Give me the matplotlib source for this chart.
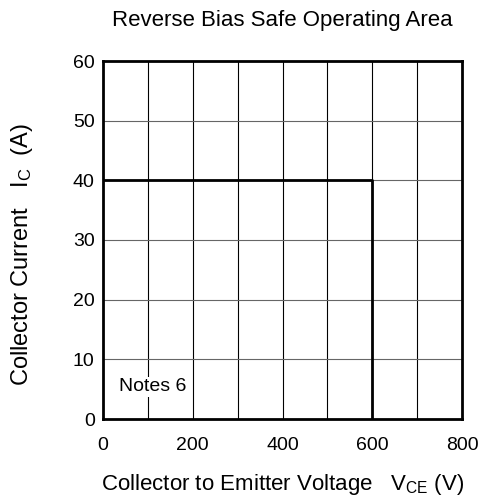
import matplotlib
matplotlib.use('Agg')
import matplotlib.pyplot as plt

plt.rcParams['font.family'] = ['Liberation Sans', 'DejaVu Sans']
plt.rcParams['mathtext.fontset'] = 'custom'
plt.rcParams['mathtext.rm'] = 'Liberation Sans'
plt.rcParams['mathtext.it'] = 'Liberation Sans'

# RBSOA boundary
vce = [0, 600, 600]
ic = [40, 40, 0]

xticks = [0, 200, 400, 600, 800]
yticks = [0, 10, 20, 30, 40, 50, 60]
xgrid = [100, 200, 300, 400, 500, 600, 700]
ygrid = [10, 20, 30, 40, 50]

fig = plt.figure(figsize=(4.86, 5.01), dpi=100)
ax = fig.add_axes([103 / 486, 1 - 419 / 501, 359 / 486, 358 / 501])

for x in xgrid:
    ax.axvline(x, color='black', lw=0.8, zorder=1)
for y in ygrid:
    ax.axhline(y, color='#666666', lw=0.8, zorder=1)

ax.plot(vce, ic, color='black', lw=2, zorder=3)

ax.set_xlim(0, 800)
ax.set_ylim(0, 60)
ax.set_xticks(xticks)
ax.set_yticks(yticks)
ax.tick_params(length=0, labelsize=14)
ax.tick_params(axis='x', pad=13)
ax.tick_params(axis='y', pad=6)
for s in ax.spines.values():
    s.set_linewidth(2)

ax.text(110, 5.4, 'Notes 6', fontsize=14, ha='center', va='center', zorder=2,
        bbox=dict(facecolor='white', edgecolor='none', pad=1))

fig.text(282.5 / 486, 1 - 26 / 501, 'Reverse Bias Safe Operating Area',
         fontsize=16, ha='center', va='baseline')
ax.set_xlabel(r'Collector to Emitter Voltage   V$_{\mathrm{CE}}$ (V)', fontsize=16)
ax.set_ylabel(r'Collector Current   I$_{\mathrm{C}}$  (A)', fontsize=17)
ax.xaxis.set_label_coords(0.5, -0.148)
ax.yaxis.set_label_coords(-0.19, 0.46)

fig.savefig('out.png', dpi=100)
